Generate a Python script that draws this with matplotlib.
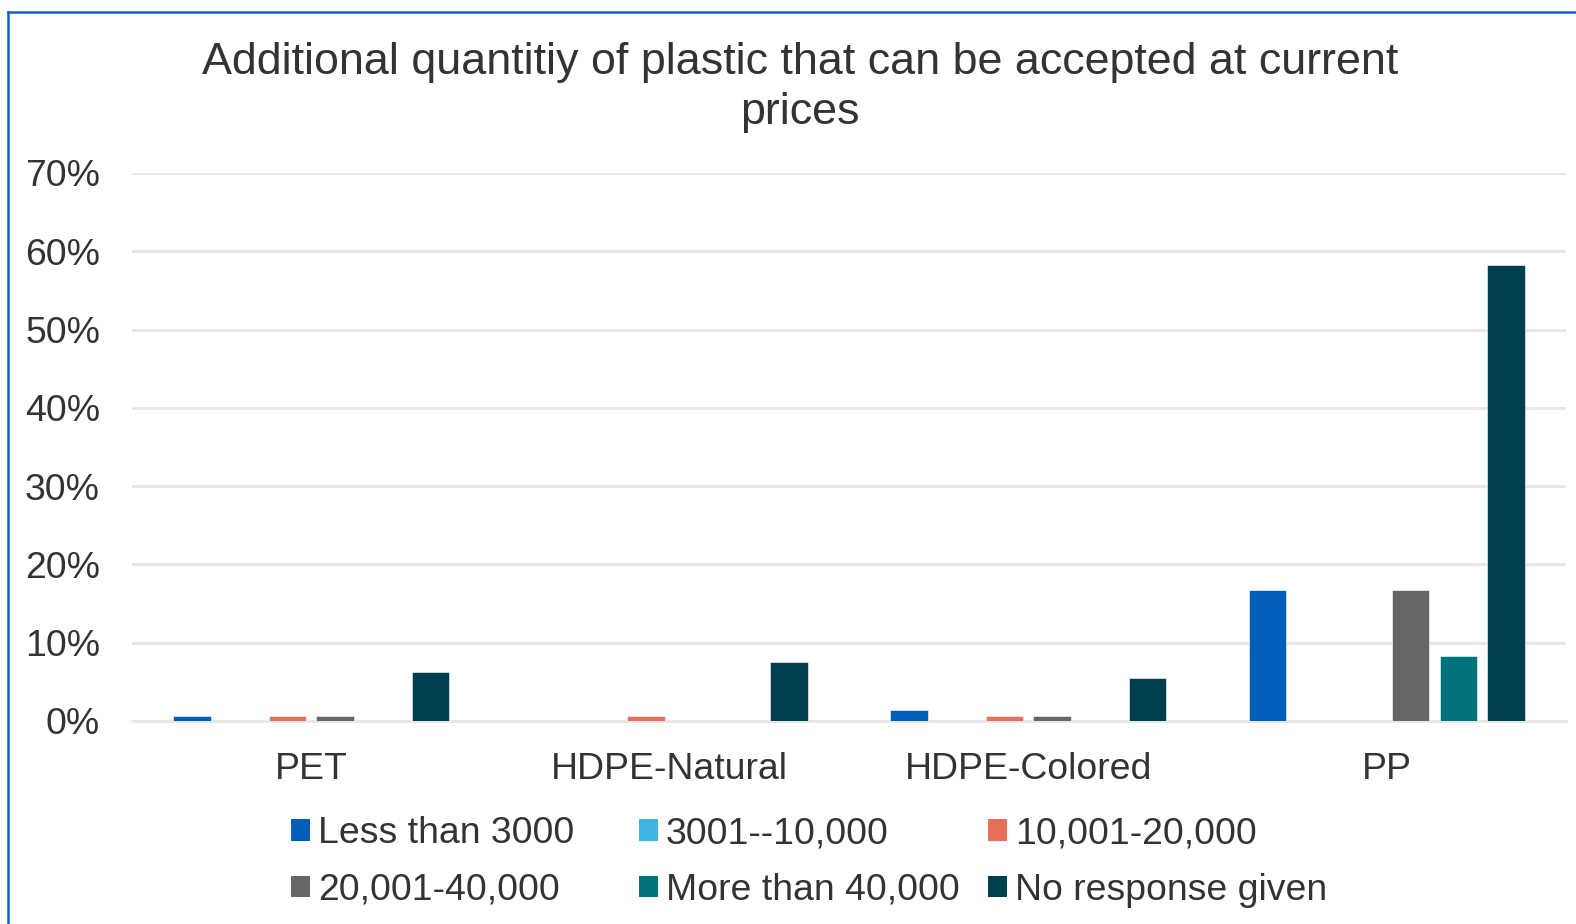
import matplotlib
matplotlib.use("Agg")
import matplotlib.pyplot as plt
import numpy as np
from matplotlib.patches import Patch
from matplotlib.lines import Line2D

plt.rcParams['font.family'] = ['Liberation Sans', 'DejaVu Sans']

categories = ["PET", "HDPE-Natural", "HDPE-Colored", "PP"]
series_names = ["Less than 3000", "3001--10,000", "10,001-20,000",
                "20,001-40,000", "More than 40,000", "No response given"]
less_3000 = [0.7, 0.0, 1.4, 16.7]
r3001_10000 = [0.0, 0.0, 0.0, 0.0]
r10001_20000 = [0.7, 0.7, 0.7, 0.0]
r20001_40000 = [0.7, 0.0, 0.7, 16.7]
more_40000 = [0.0, 0.0, 0.0, 8.3]
no_response = [6.2, 7.6, 5.5, 58.3]
series_values = [less_3000, r3001_10000, r10001_20000, r20001_40000, more_40000, no_response]
colors = ["#005EB8", "#41B6E6", "#E8705A", "#666666", "#00747A", "#003F50"]
yticks = [0, 10, 20, 30, 40, 50, 60, 70]
ytick_labels = ["0%", "10%", "20%", "30%", "40%", "50%", "60%", "70%"]
title = "Additional quantitiy of plastic that can be accepted at current\nprices"

W, H = 1576, 924
fig = plt.figure(figsize=(W / 100, H / 100), dpi=100)
txt = "#333333"
fs = 26.9

ax = fig.add_axes([132 / W, 1 - 721 / H, 1434 / W, (721 - 173) / H])
x = np.arange(len(categories))
step = 0.133
bw = 0.104
for i, (vals, c) in enumerate(zip(series_values, colors)):
    ax.bar(x + (i - 2.5) * step, vals, width=bw, color=c, zorder=3,
           edgecolor="white", linewidth=0.4)

ax.set_xlim(-0.5, 3.5)
ax.set_ylim(0, 70)
ax.set_yticks(yticks)
ax.set_yticklabels(ytick_labels)
ax.set_xticks(x)
ax.set_xticklabels(categories)
ax.tick_params(axis='both', length=0, labelsize=fs, colors=txt)
ax.tick_params(axis='y', pad=23)
ax.tick_params(axis='x', pad=22)
ax.yaxis.grid(True, color="#e6e6e6", linewidth=2, zorder=0)
ax.set_axisbelow(True)
for s in ["top", "right", "left"]:
    ax.spines[s].set_visible(False)
ax.spines["bottom"].set_color("#e6e6e6")
ax.spines["bottom"].set_linewidth(2)

fig.text(800 / W, 1 - 42 / H, title, ha="center", va="top", fontsize=32.3,
         color=txt, linespacing=1.27)

# legend: three columns placed individually
col_x = [291, 639, 988]
handles = [Patch(facecolor=c, edgecolor="none") for c in colors]
for j in range(3):
    idx = [j, j + 3]
    leg = fig.legend([handles[k] for k in idx], [series_names[k] for k in idx],
                     loc="center left", bbox_to_anchor=(col_x[j] / W, 1 - 862 / H),
                     frameon=False, fontsize=fs, handlelength=0.5, handleheight=0.5,
                     handletextpad=0.22, labelspacing=0.58, borderpad=0, borderaxespad=0)
    for t in leg.get_texts():
        t.set_color(txt)

# outer chart border
bc = "#0A64C8"
fig.add_artist(Line2D([8 / W, 8 / W], [0, 1 - 12 / H], transform=fig.transFigure, color=bc, linewidth=1.8))
fig.add_artist(Line2D([8 / W, 1], [1 - 12 / H, 1 - 12 / H], transform=fig.transFigure, color=bc, linewidth=1.8))

fig.savefig("out.png", dpi=100, facecolor="white")
